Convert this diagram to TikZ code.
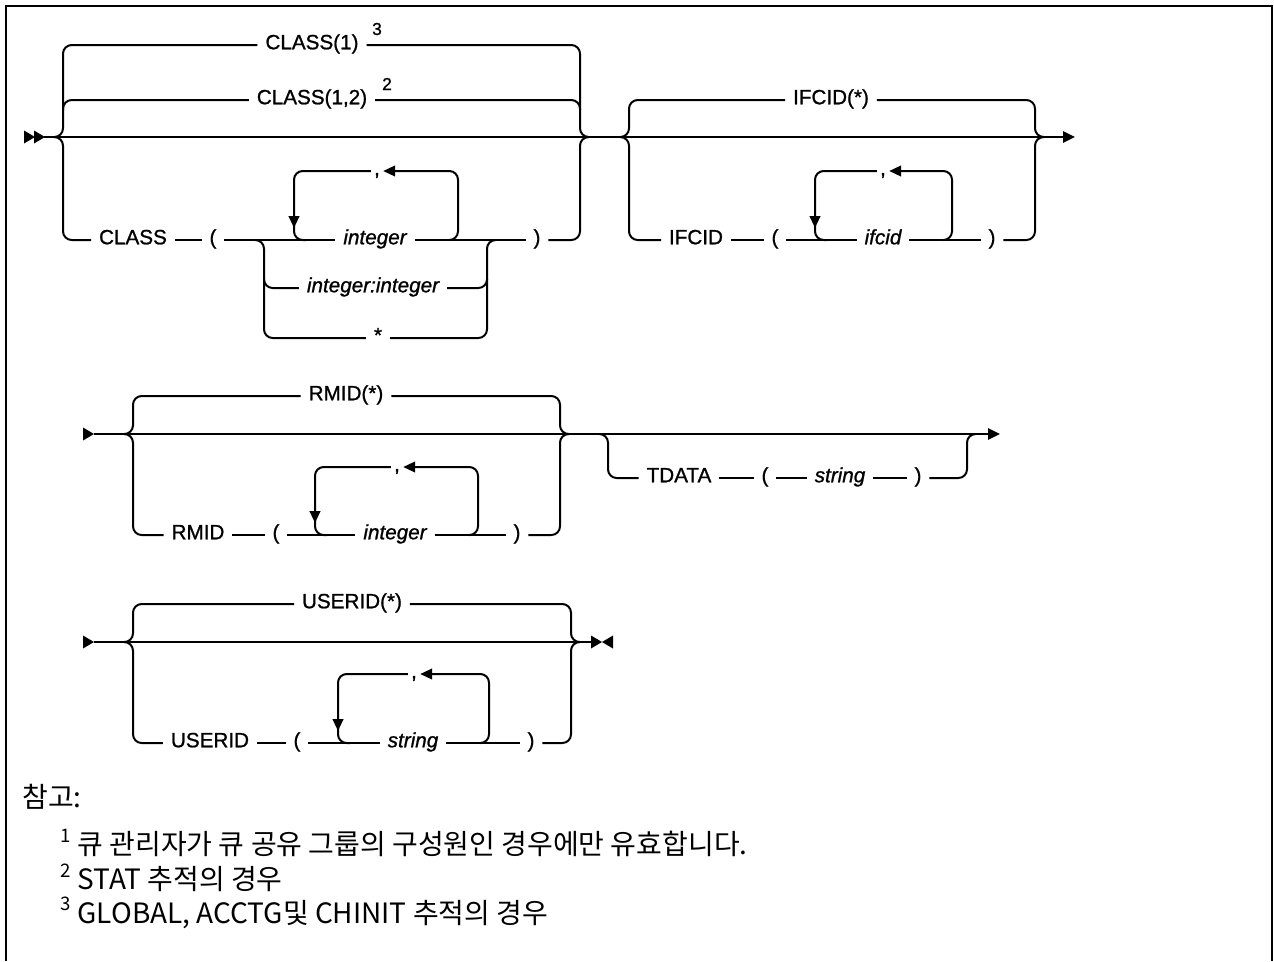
\documentclass[tikz,border=0pt]{standalone}
\usepackage{fontspec}
\setmainfont{Liberation Sans}
\newfontfamily\lblfont{Liberation Sans}[FakeBold=1]
\newfontfamily\kr{Noto Sans CJK KR}
\usetikzlibrary{arrows.meta}
\newcommand\notesup[1]{\raisebox{0.45em}{\fontsize{14}{14}\selectfont #1}\hspace{0.25em}}
\begin{document}
\begin{tikzpicture}[x=0.75pt,y=-0.75pt,
  rail/.style={line width=1.5pt, rounded corners=6.5pt},
  frameline/.style={line width=2pt},
  kw/.style={font=\lblfont\fontsize{15.5}{18}\selectfont, inner xsep=6pt, inner ysep=0pt, outer sep=0pt, text height=0.64em, text depth=0pt},
  var/.style={kw, font=\lblfont\fontsize{15.5}{18}\selectfont\itshape},
  sym/.style={kw, inner xsep=2.5pt},
  supn/.style={font=\lblfont\fontsize{13}{13}\selectfont, inner sep=0pt},
  endtip/.style={-{Triangle[length=9pt,width=8.5pt]}},
  looptip/.style={-{Triangle[length=9pt,width=8pt]}},
  notestyle/.style={font=\kr\fontsize{21}{26}\selectfont, anchor=west, inner sep=0pt},
  tri/.pic={\fill (0,-6.5) -- (11,0) -- (0,6.5) -- cycle;},
  trl/.pic={\fill (0,-6.5) -- (-11,0) -- (0,6.5) -- cycle;}
]
\useasboundingbox (0,0) rectangle (1274,961);
\draw[frameline] (6,961) -- (6,6) -- (1272,6) -- (1272,961);

% ---------------- Track 1 ----------------
\pic at (24,137) {tri};
\pic at (34,137) {tri};
\coordinate (m1a) at (44,137);
\coordinate (m1b) at (1075,137);
\draw[rail, endtip] (m1a) -- (m1b);

\node[kw] (c1) at (312,45) {CLASS(1)};
\node[supn] (s3) at (377,29) {3};
\node[kw] (c12) at (312,100) {CLASS(1,2)};
\node[supn] (s2) at (387,84) {2};
\node[kw] (cls) at (133,240) {CLASS};
\node[kw] (lp1) at (213,240) {(};
\node[var] (int1) at (375,240) {integer};
\node[var] (intint) at (373,288) {integer:integer};
\node[kw] (ast) at (378,338) {*};
\node[sym] (cm1) at (377,171) {,};
\node[kw] (rp1) at (537,240) {)};

\draw[rail] (55,137) -| (63,45) -- (c1.west);
\draw[rail] (55,137) -| (63,240) -- (cls.west);
\draw[rail] (63,110) |- (c12.west);
\draw[rail] (c1.east) -| (580,137) -- (588,137);
\draw[rail] (c12.east) -| (580,110);
\draw[rail] (rp1.east) -| (580,137) -- (588,137);
\draw[rail] (cls) -- (lp1);
\draw[rail] (lp1) -- (int1);
\draw[rail] (int1) -- (rp1);
\draw[rail] (256,240) -| (264,338) -- (ast.west);
\draw[rail] (264,280) |- (intint.west);
\draw[rail] (ast.east) -| (487,240) -- (495,240);
\draw[rail] (intint.east) -| (487,280);
\draw[rail, looptip] (cm1.west) -| (294,228);
\draw[rail] (294,225) |- (306,240);
\draw[rail, looptip] (450,240) -| (458,171) -- (cm1.east);

\node[kw] (if1) at (831,100) {IFCID(*)};
\node[kw] (ifc) at (696,240) {IFCID};
\node[kw] (lp2) at (775,240) {(};
\node[var] (ifv) at (883,240) {ifcid};
\node[sym] (cm2) at (883,171) {,};
\node[kw] (rp2) at (992,240) {)};
\draw[rail] (621,137) -| (629,100) -- (if1.west);
\draw[rail] (621,137) -| (629,240) -- (ifc.west);
\draw[rail] (if1.east) -| (1035,137) -- (1043,137);
\draw[rail] (rp2.east) -| (1035,137) -- (1043,137);
\draw[rail] (ifc) -- (lp2);
\draw[rail] (lp2) -- (ifv);
\draw[rail] (ifv) -- (rp2);
\draw[rail, looptip] (cm2.west) -| (815,228);
\draw[rail] (815,225) |- (827,240);
\draw[rail, looptip] (944,240) -| (952,171) -- (cm2.east);

% ---------------- Track 2 ----------------
\pic at (83,434) {tri};
\coordinate (m2a) at (94,434);
\coordinate (m2b) at (1000,434);
\draw[rail, endtip] (m2a) -- (m2b);

\node[kw] (rm1) at (346,396) {RMID(*)};
\node[kw] (rmid) at (198,535) {RMID};
\node[kw] (lp3) at (276,535) {(};
\node[var] (int2) at (395,535) {integer};
\node[sym] (cm3) at (397,467) {,};
\node[kw] (rp3) at (517,535) {)};
\draw[rail] (125,434) -| (133,396) -- (rm1.west);
\draw[rail] (125,434) -| (133,535) -- (rmid.west);
\draw[rail] (rm1.east) -| (560,434) -- (568,434);
\draw[rail] (rp3.east) -| (560,434) -- (568,434);
\draw[rail] (rmid) -- (lp3);
\draw[rail] (lp3) -- (int2);
\draw[rail] (int2) -- (rp3);
\draw[rail, looptip] (cm3.west) -| (315,523);
\draw[rail] (315,520) |- (327,535);
\draw[rail, looptip] (470,535) -| (478,467) -- (cm3.east);

\node[kw] (td) at (679,478) {TDATA};
\node[kw] (lp4) at (765,478) {(};
\node[var] (str1) at (840,478) {string};
\node[kw] (rp4) at (918,478) {)};
\draw[rail] (600,434) -| (608,478) -- (td.west);
\draw[rail] (rp4.east) -| (967,434) -- (975,434);
\draw[rail] (td) -- (lp4);
\draw[rail] (lp4) -- (str1);
\draw[rail] (str1) -- (rp4);

% ---------------- Track 3 ----------------
\pic at (83,642) {tri};
\coordinate (m3a) at (94,642);
\coordinate (m3b) at (592,642);
\draw[rail] (m3a) -- (m3b);
\pic at (591,642) {tri};
\pic at (613,642) {trl};

\node[kw] (u1) at (352,604) {USERID(*)};
\node[kw] (uid) at (210,743) {USERID};
\node[kw] (lp5) at (297,743) {(};
\node[var] (str2) at (413,743) {string};
\node[sym] (cm5) at (414,674) {,};
\node[kw] (rp5) at (531,743) {)};
\draw[rail] (125,642) -| (133,604) -- (u1.west);
\draw[rail] (125,642) -| (133,743) -- (uid.west);
\draw[rail] (u1.east) -| (571,642) -- (579,642);
\draw[rail] (rp5.east) -| (571,642) -- (579,642);
\draw[rail] (uid) -- (lp5);
\draw[rail] (lp5) -- (str2);
\draw[rail] (str2) -- (rp5);
\draw[rail, looptip] (cm5.west) -| (338,731);
\draw[rail] (338,728) |- (350,743);
\draw[rail, looptip] (481,743) -| (489,674) -- (cm5.east);

% ---------------- Notes ----------------
\node[notestyle] (n0) at (22,797) {참고:};
\node[notestyle] (n1) at (60,843) {\notesup{1}큐 관리자가 큐 공유 그룹의 구성원인 경우에만 유효합니다.};
\node[notestyle] (n2) at (60,878) {\notesup{2}STAT 추적의 경우};
\node[notestyle] (n3) at (60,913) {\notesup{3}GLOBAL, ACCTG및 CHINIT 추적의 경우};
\end{tikzpicture}
\end{document}
